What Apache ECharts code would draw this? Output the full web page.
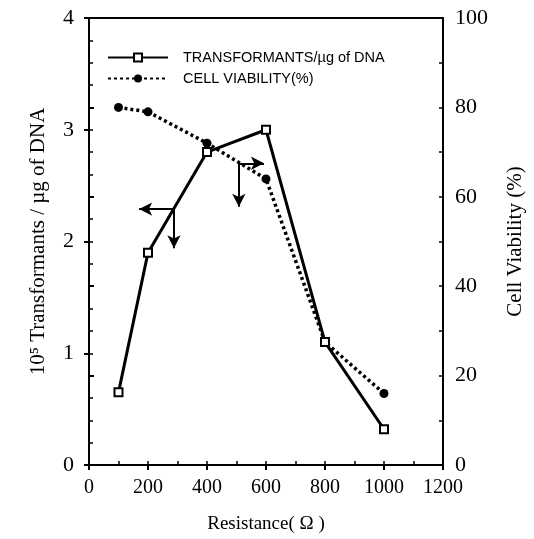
<!DOCTYPE html>
<html lang="en">
<head>
    <meta charset="utf-8">
    <title>Transformants vs Resistance</title>
    <script src="https://cdn.jsdelivr.net/npm/echarts@6/dist/echarts.min.js"></script>
    <style>
        html, body { margin: 0; padding: 0; background: #fff; }
        #main { width: 534px; height: 539px; }
    </style>
</head>
<body>
<div id="main"></div>
<script type="text/javascript">
// 数据
var resistance = [100, 200, 400, 600, 800, 1000];
var transformants = [0.65, 1.90, 2.80, 3.00, 1.10, 0.32];
var viability = [80, 79, 72, 64, 27.5, 16];
// 箭头 (数据坐标)
var arrowLeft = [[288, 2.29], [170, 2.29]];
var arrowLeftDown = [[288, 2.29], [288, 1.94]];
var arrowRight = [[508, 2.70], [593, 2.70]];
var arrowRightDown = [[508, 2.70], [508, 2.31]];

var serif = 'Liberation Serif';
var sans = 'Liberation Sans';

function pairs(xs, ys) {
    var out = [];
    for (var i = 0; i < xs.length; i++) out.push([xs[i], ys[i]]);
    return out;
}
function arrow(seg) {
    return [{ coord: seg[0] }, { coord: seg[1] }];
}

var myChart = echarts.init(document.getElementById('main'));
var option = {
    animation: false,
    backgroundColor: '#fff',
    grid: {
        left: 89, right: 91, top: 18, bottom: 74,
        show: true, borderColor: '#000', borderWidth: 2, backgroundColor: 'transparent'
    },
    legend: {
        left: 102, top: 45, orient: 'vertical', itemGap: 6,
        itemWidth: 60, itemHeight: 10,
        textStyle: { fontFamily: sans, fontSize: 14.5, color: '#000', padding: [0, 0, 0, 10] },
        data: ['TRANSFORMANTS/µg of DNA', 'CELL VIABILITY(%)']
    },
    xAxis: [{
        type: 'value', min: 0, max: 1200, interval: 200,
        name: 'Resistance( Ω )', nameLocation: 'middle', nameGap: 50,
        nameTextStyle: { fontFamily: serif, fontSize: 19, color: '#000' },
        axisLine: { lineStyle: { color: '#000', width: 2 } },
        axisTick: { inside: false, length: 5, lineStyle: { color: '#000', width: 2 } },
        axisLabel: { fontFamily: serif, fontSize: 20, color: '#000', margin: 13, formatter: function (v) { return String(v); } },
        splitLine: { show: false }
    }, {
        type: 'value', min: 0, max: 1200, interval: 100, position: 'bottom',
        axisLine: { show: false },
        axisTick: { inside: true, length: 4, lineStyle: { color: '#000', width: 1.5 } },
        axisLabel: { show: false }, splitLine: { show: false }
    }],
    yAxis: [{
        type: 'value', min: 0, max: 4, interval: 1, position: 'left',
        name: '10⁵ Transformants / µg of DNA', nameLocation: 'middle', nameGap: 40,
        nameTextStyle: { fontFamily: serif, fontSize: 21, color: '#000' },
        axisLine: { show: true, lineStyle: { color: '#000', width: 2 } },
        axisTick: { inside: false, length: 5, lineStyle: { color: '#000', width: 2 } },
        axisLabel: { fontFamily: serif, fontSize: 22, color: '#000', margin: 15 },
        splitLine: { show: false }
    }, {
        type: 'value', min: 0, max: 100, interval: 20, position: 'right',
        name: 'Cell Viability (%)', nameLocation: 'middle', nameGap: 62, nameRotate: 90,
        nameTextStyle: { fontFamily: serif, fontSize: 21, color: '#000' },
        axisLine: { show: true, lineStyle: { color: '#000', width: 2 } },
        axisTick: { inside: false, length: 5, lineStyle: { color: '#000', width: 2 } },
        axisLabel: { fontFamily: serif, fontSize: 22, color: '#000', margin: 12 },
        splitLine: { show: false }
    }, {
        type: 'value', min: 0, max: 4, interval: 0.2, position: 'left',
        axisLine: { show: false },
        axisTick: { inside: true, length: 4, lineStyle: { color: '#000', width: 1.5 } },
        axisLabel: { show: false }, splitLine: { show: false }
    }, {
        type: 'value', min: 0, max: 100, interval: 10, position: 'right',
        axisLine: { show: false },
        axisTick: { inside: true, length: 4, lineStyle: { color: '#000', width: 1.5 } },
        axisLabel: { show: false }, splitLine: { show: false }
    }],
    series: [{
        name: 'TRANSFORMANTS/µg of DNA',
        type: 'line', yAxisIndex: 0,
        data: pairs(resistance, transformants),
        symbol: 'emptyRect', symbolSize: 8,
        itemStyle: { color: '#000', borderWidth: 1.5 },
        lineStyle: { color: '#000', width: 3, type: 'solid' },
        markLine: {
            silent: true,
            symbol: ['none', 'arrow'], symbolSize: [10, 13],
            label: { show: false },
            lineStyle: { color: '#000', width: 2, type: 'solid' },
            data: [arrow(arrowLeft), arrow(arrowLeftDown), arrow(arrowRight), arrow(arrowRightDown)]
        },
        z: 3
    }, {
        name: 'CELL VIABILITY(%)',
        type: 'line', yAxisIndex: 1,
        data: pairs(resistance, viability),
        symbol: 'circle', symbolSize: 9,
        itemStyle: { color: '#000' },
        lineStyle: { color: '#000', width: 3.5, type: [3, 3] },
        z: 2
    }]
};
myChart.setOption(option);
</script>
</body>
</html>
